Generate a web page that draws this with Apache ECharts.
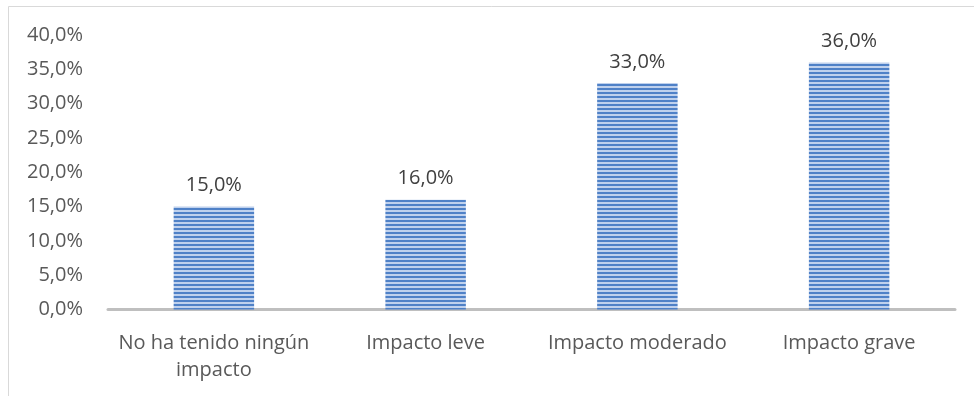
<!DOCTYPE html>
<html>
<head>
<meta charset="utf-8">
<script src="https://cdn.jsdelivr.net/npm/echarts@6/dist/echarts.min.js"></script>
<style>
  html, body { margin: 0; padding: 0; background: #fff; }
  #chart { width: 974px; height: 396px; }
</style>
</head>
<body>
<div id="chart"></div>
<script>
// Nivel de impacto reportado (porcentaje de respuestas)
const categories = ['No ha tenido ningún\nimpacto', 'Impacto leve', 'Impacto moderado', 'Impacto grave'];
const values = [15.0, 16.0, 33.0, 36.0];
const yTicks = { min: 0, max: 40, interval: 5 };

// Horizontal stripe fill for the bars
function stripePattern() {
  const c = document.createElement('canvas');
  c.width = 4; c.height = 4;
  const ctx = c.getContext('2d');
  ctx.fillStyle = '#bfd1ed';
  ctx.fillRect(0, 0, 4, 4);
  ctx.fillStyle = '#4f81c7';
  ctx.fillRect(0, 0, 4, 2);
  return c;
}

const fmt = v => v.toFixed(1).replace('.', ',') + '%';
const font = '"Open Sans", sans-serif';

const chart = echarts.init(document.getElementById('chart'), null, { renderer: 'canvas' });
chart.setOption({
  animation: false,
  backgroundColor: '#ffffff',
  graphic: [{
    type: 'rect',
    silent: true,
    z: -10,
    shape: { x: 8.5, y: 6.5, width: 1200, height: 1200 },
    style: { fill: 'none', stroke: '#d9d9d9', lineWidth: 1 }
  }],
  grid: { left: 108, right: 19, top: 35, bottom: 86.5, containLabel: false },
  xAxis: {
    type: 'category',
    data: categories,
    axisLine: { lineStyle: { color: '#bfbfbf', width: 3 } },
    axisTick: { show: false },
    axisLabel: {
      color: '#595959', fontFamily: font, fontSize: 20, lineHeight: 27,
      margin: 20, interval: 0
    }
  },
  yAxis: {
    type: 'value',
    min: yTicks.min, max: yTicks.max, interval: yTicks.interval,
    axisLine: { show: false },
    axisTick: { show: false },
    splitLine: { show: false },
    axisLabel: {
      color: '#595959', fontFamily: font, fontSize: 20, margin: 25,
      formatter: v => fmt(v)
    }
  },
  series: [{
    type: 'bar',
    data: values,
    barWidth: '38%',
    itemStyle: { color: { image: stripePattern(), repeat: 'repeat' } },
    label: {
      show: true, position: 'top', distance: 11,
      color: '#404040', fontFamily: font, fontSize: 20,
      formatter: p => fmt(p.value)
    }
  }]
});
</script>
</body>
</html>
